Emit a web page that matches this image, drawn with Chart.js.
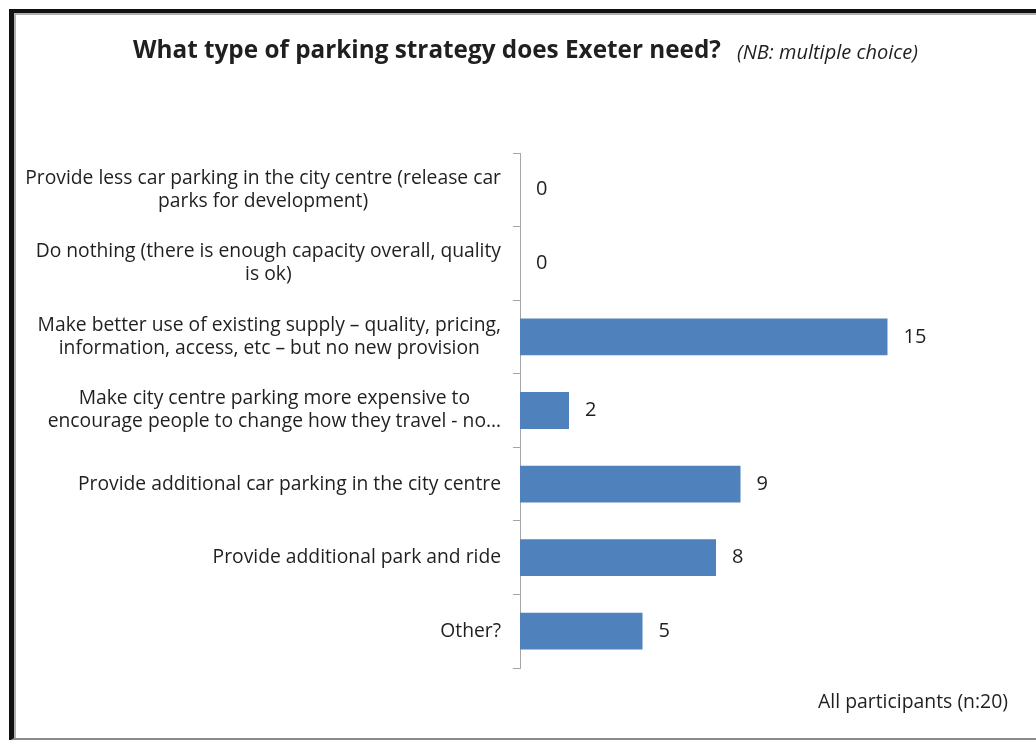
<!DOCTYPE html>
<html>
<head>
<meta charset="utf-8">
<script src="https://cdn.jsdelivr.net/npm/chart.js@4"></script>
<style>
  body { margin: 0; background: #fff; }
  #wrap { position: relative; width: 1036px; height: 740px; overflow: hidden; }
  #frame {
    position: absolute; left: 9px; top: 9px; width: 1040px; height: 725px;
    border-left: 5px solid #111; border-top: 4px solid #111; border-bottom: 3px solid #8a8a8a;
    box-shadow: inset 2px 2px 0 #b0b0b0;
  }
  canvas { position: absolute; left: 0; top: 0; }
</style>
</head>
<body>
<div id="wrap">
  <div id="frame"></div>
  <canvas id="chart" width="1036" height="740"></canvas>
</div>
<script>
const categories = [
    ['Provide less car parking in the city centre (release car', 'parks for development)'],
    ['Do nothing (there is enough capacity overall, quality', 'is ok)'],
    ['Make better use of existing supply \u2013 quality, pricing,', 'information, access, etc \u2013 but no new provision'],
    ['Make city centre parking more expensive to', 'encourage people to change how they travel - no\u2026'],
    ['Provide additional car parking in the city centre'],
    ['Provide additional park and ride'],
    ['Other?'],
];
const responses = [0, 0, 15, 2, 9, 8, 5];

const titleMain = 'What type of parking strategy does Exeter need?';
const titleNote = '(NB: multiple choice)';
const footNote = 'All participants (n:20)';

const fontFamily = '"Open Sans", "Noto Sans", sans-serif';
const textColor = '#1f1f1f';

const textPlugin = {
    id: 'textPlugin',
    afterDraw: (chart) => {
        const ctx = chart.ctx;
        const yScale = chart.scales.y;
        ctx.save();
        ctx.fillStyle = textColor;
        ctx.textBaseline = 'middle';

        // title
        ctx.font = `bold 24.3px ${fontFamily}`;
        ctx.textAlign = 'left';
        ctx.fillText(titleMain, 133, 51);
        ctx.font = `italic 20px ${fontFamily}`;
        ctx.fillText(titleNote, 737, 53);

        // footer
        ctx.font = `19.4px ${fontFamily}`;
        ctx.textAlign = 'right';
        ctx.fillText(footNote, 1008, 702);

        // category labels, each block centred, right edge near axis
        ctx.font = `19.3px ${fontFamily}`;
        ctx.textAlign = 'center';
        const lineHeight = 23;
        categories.forEach((lines, i) => {
            const y = yScale.getPixelForValue(i);
            const widest = Math.max(...lines.map((l) => ctx.measureText(l).width));
            const cx = yScale.right - 19 - widest / 2;
            lines.forEach((line, j) => {
                ctx.fillText(line, cx, y + (j - (lines.length - 1) / 2) * lineHeight);
            });
        });

        // value labels
        ctx.font = `20px ${fontFamily}`;
        ctx.textAlign = 'left';
        const meta = chart.getDatasetMeta(0);
        meta.data.forEach((bar, i) => {
            ctx.fillText(String(responses[i]), bar.x + 16, bar.y);
        });
        ctx.restore();
    },
};

new Chart(document.getElementById('chart'), {
    type: 'bar',
    data: {
        labels: categories,
        datasets: [{
            data: responses,
            backgroundColor: '#4f81bd',
            barPercentage: 0.5,
            categoryPercentage: 1,
        }],
    },
    options: {
        indexAxis: 'y',
        responsive: false,
        animation: false,
        layout: { padding: { top: 153, bottom: 72, left: 0, right: 124 } },
        plugins: { legend: { display: false }, tooltip: { enabled: false } },
        scales: {
            x: { display: false, min: 0, max: 16 },
            y: {
                afterFit: (scale) => { scale.width = 520; },
                ticks: { display: false },
                grid: {
                    offset: true,
                    drawOnChartArea: false,
                    drawTicks: true,
                    tickLength: 7,
                    color: '#a6a6a6',
                },
                border: { display: true, color: '#a6a6a6', width: 1 },
            },
        },
    },
    plugins: [textPlugin],
});
</script>
</body>
</html>
